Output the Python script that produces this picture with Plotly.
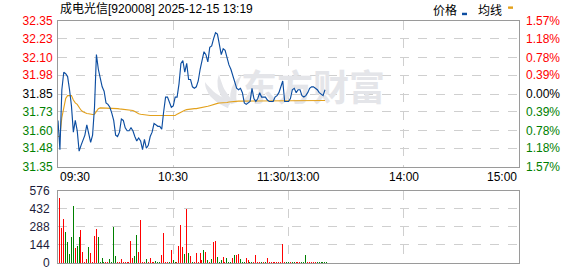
import math
import plotly.graph_objects as go

# ---------------- data ----------------
title_text = "成电光信[920008] 2025-12-15 13:19"
prev_close = 31.85

price_ticks = [31.35, 31.48, 31.60, 31.73, 31.85, 31.98, 32.10, 32.23, 32.35]
price_tick_labels = ["31.35", "31.48", "31.60", "31.73", "31.85", "31.98", "32.10", "32.23", "32.35"]
pct_tick_labels = ["1.57%", "1.18%", "0.78%", "0.39%", "0.00%", "0.39%", "0.78%", "1.18%", "1.57%"]
vol_ticks = [0, 144, 288, 432, 576]
vol_tick_labels = ["0", "144", "288", "432", "576"]
time_tick_pos = [0, 60, 120, 180, 240]
time_tick_labels = ["09:30", "10:30", "11:30/13:00", "14:00", "15:00"]
watermark_text = "东方财富"

price = [
    31.67, 31.47, 31.88, 32.00, 31.99, 31.97, 31.88, 31.77, 31.59, 31.67,
    31.60, 31.46, 31.50, 31.54, 31.57, 31.64, 31.58, 31.52, 31.57, 31.76,
    32.12, 32.02, 31.96, 31.90, 31.87, 31.79, 31.78, 31.76, 31.72, 31.67,
    31.57, 31.56, 31.59, 31.68, 31.67, 31.62, 31.60, 31.60, 31.62, 31.60,
    31.56, 31.53, 31.55, 31.53, 31.47, 31.54, 31.48, 31.50, 31.56, 31.59,
    31.65, 31.64, 31.63, 31.63, 31.61, 31.73, 31.83, 31.83, 31.80, 31.76,
    31.77, 31.83, 31.83, 31.92, 32.06, 32.08, 32.00, 32.06, 31.95, 31.95,
    31.90, 31.89, 31.90, 31.94, 32.02, 32.07, 32.14, 32.12, 32.07, 32.17,
    32.18, 32.23, 32.27, 32.26, 32.18, 32.12, 32.16, 32.15, 32.10, 32.05,
    32.02, 31.98, 31.94, 31.89, 31.88, 31.89, 31.86, 31.79, 31.78, 31.79,
    31.80, 31.89, 31.82, 31.80, 31.82, 31.86, 31.83, 31.83, 31.83, 31.81,
    31.80, 31.80, 31.80, 31.83, 31.84, 31.86, 31.90, 31.94, 31.80, 31.80,
    31.80, 31.82, 31.88, 31.89, 31.86, 31.88, 31.88, 31.84, 31.83, 31.84,
    31.86, 31.89, 31.90, 31.90, 31.89, 31.88, 31.86, 31.85, 31.84, 31.88,
]

avg_price = [
    31.56, 31.56, 31.69, 31.77, 31.82, 31.84, 31.84, 31.84, 31.81, 31.79,
    31.78, 31.76, 31.74, 31.73, 31.722, 31.718, 31.716, 31.713, 31.711, 31.713,
    31.73, 31.75, 31.756, 31.756, 31.756, 31.756, 31.756, 31.756, 31.756, 31.756,
    31.756, 31.751, 31.749, 31.747, 31.747, 31.744, 31.744, 31.742, 31.742, 31.738,
    31.731, 31.722, 31.716, 31.713, 31.711, 31.707, 31.704, 31.704, 31.704, 31.704,
    31.704, 31.704, 31.704, 31.704, 31.704, 31.704, 31.704, 31.704, 31.704, 31.704,
    31.704, 31.704, 31.713, 31.72, 31.727, 31.736, 31.74, 31.744, 31.747, 31.749,
    31.749, 31.751, 31.751, 31.753, 31.756, 31.758, 31.76, 31.764, 31.767, 31.771,
    31.776, 31.778, 31.782, 31.787, 31.789, 31.789, 31.791, 31.791, 31.793, 31.796,
    31.798, 31.80, 31.802, 31.802, 31.802, 31.802, 31.802, 31.802, 31.802, 31.802,
    31.803, 31.803, 31.803, 31.803, 31.803, 31.803, 31.803, 31.803, 31.803, 31.803,
    31.804, 31.804, 31.804, 31.804, 31.804, 31.804, 31.804, 31.805, 31.805, 31.805,
    31.805, 31.805, 31.805, 31.805, 31.805, 31.805, 31.805, 31.805, 31.805, 31.805,
    31.806, 31.806, 31.806, 31.806, 31.806, 31.806, 31.806, 31.806, 31.806, 31.806,
]

volume = [
    524, 284, 356, 248, 170, 72, 209, 455, 124, 142,
    214, 266, 93, 8, 34, 132, 85, 15, 217, 274,
    209, 8, 46, 15, 8, 8, 39, 8, 287, 62,
    15, 5, 39, 8, 8, 8, 8, 178, 46, 62,
    225, 93, 349, 8, 8, 39, 8, 46, 8, 8,
    23, 8, 8, 70, 240, 8, 8, 5, 108, 31,
    8, 8, 140, 302, 132, 78, 434, 85, 57, 15,
    8, 85, 15, 85, 31, 108, 88, 31, 15, 39,
    168, 176, 54, 8, 31, 54, 8, 46, 8, 8,
    46, 70, 67, 72, 39, 8, 8, 46, 31, 8,
    8, 8, 70, 5, 8, 8, 8, 8, 46, 15,
    5, 8, 8, 8, 5, 8, 155, 8, 8, 8,
    15, 15, 8, 8, 8, 8, 8, 5, 70, 8,
    8, 8, 8, 8, 8, 8, 8, 8, 8, 8,
]

vol_dir = list(
    "rrrggggg" "rggrrrrgrrrr" "ggggrrgggg" "rrrrrrrrrg"
    "grrrrgrrrr" "gggrrrrgrg" "grrrrgrgrg" "rrrrrgrgrg"
    "rrgggrrgggr" "grrgggrrgg" "rrrrgrgrrrr" "rrrrrrggrg"
    "grrrggg" "rrrrrggggggg"
)

# ---------------- geometry helpers ----------------
W, H = 578, 276
ML, MR, MT, MB = 58, 59, 21, 6
PW, PH = W - ML - MR, H - MT - MB
X_SPAN = 240
PX_PER_MIN = PW / X_SPAN
Y_LO, Y_HI = 31.35, 32.35
PRICE_TOP_PX, PRICE_BOT_PX = 21.5, 171.5


def px_x(px):
    return (px - ML) / PW


def px_y(py):
    return (H - MB - py) / PH


def dx(px):  # pixel -> x data (minutes)
    return (px - ML) / PX_PER_MIN


def dy(py):  # pixel -> price
    return Y_HI - (py - PRICE_TOP_PX) / (PRICE_BOT_PX - PRICE_TOP_PX) * (Y_HI - Y_LO)


RED = "#ff0000"
GREEN = "#008000"
BLUE = "#0d4ea1"
GOLD = "#e3a11c"
GRID = "#cfcfcf"
BORDER = "#9a9a9a"
WM = "#e4e5e9"
NUMFONT = "Liberation Sans, Arial, sans-serif"
CJKFONT = "Liberation Sans, Noto Sans CJK SC, sans-serif"

minutes = list(range(len(price)))
vol_colors = [RED if d == "r" else GREEN for d in vol_dir[: len(volume)]]
while len(vol_colors) < len(volume):
    vol_colors.append(GREEN)

# snap each 1px volume bar to a whole pixel column (drawn ~2px right of the minute)
bar_offsets = []
for m in minutes:
    left_px = math.floor(ML + m * PX_PER_MIN + 1.8) + 0.02
    bar_offsets.append((left_px - (ML + m * PX_PER_MIN)) / PX_PER_MIN)
bar_width = 0.96 / PX_PER_MIN


def colour_for(v):
    if v > prev_close + 1e-9:
        return RED
    if v < prev_close - 1e-9:
        return GREEN
    return "#000000"


def quad(p0, c, p1, n=10):
    pts = []
    for i in range(n + 1):
        t = i / n
        x = (1 - t) ** 2 * p0[0] + 2 * (1 - t) * t * c[0] + t * t * p1[0]
        y = (1 - t) ** 2 * p0[1] + 2 * (1 - t) * t * c[1] + t * t * p1[1]
        pts.append((x, y))
    return pts


fig = go.Figure()

# watermark emblem: three petals converging at the bottom (pixel-space outline)
petals = [
    ((228, 111), (205, 101), (205, 84), (214, 97), (230, 104)),
    ((229, 108), (213, 93), (219, 76), (223, 94), (233, 103)),
    ((231, 107), (227, 88), (242, 77), (234, 92), (237, 105)),
]
for p0, c1, p1, c2, p2 in petals:
    outline = quad(p0, c1, p1) + quad(p1, c2, p2)[1:] + [p0]
    fig.add_trace(go.Scatter(
        x=[dx(p[0]) for p in outline], y=[dy(p[1]) for p in outline],
        mode="lines", fill="toself", fillcolor=WM, line=dict(width=0, color=WM),
        hoverinfo="skip", showlegend=False, xaxis="x", yaxis="y",
    ))

# watermark text (drawn before data so lines sit above it)
fig.add_trace(go.Scatter(
    x=[dx(313)], y=[dy(94.5)], mode="text", text=[watermark_text],
    textfont=dict(family="Noto Sans CJK SC", size=36, color=WM, weight="bold"),
    hoverinfo="skip", showlegend=False, xaxis="x", yaxis="y",
))

fig.add_trace(go.Scatter(
    x=minutes, y=avg_price, mode="lines",
    line=dict(color=GOLD, width=1.1), hoverinfo="skip", showlegend=False,
    xaxis="x", yaxis="y",
))
fig.add_trace(go.Scatter(
    x=minutes, y=price, mode="lines",
    line=dict(color=BLUE, width=1.15), hoverinfo="skip", showlegend=False,
    xaxis="x", yaxis="y",
))
fig.add_trace(go.Bar(
    x=minutes, y=volume, marker=dict(color=vol_colors, line=dict(width=0)),
    width=bar_width, offset=bar_offsets, hoverinfo="skip", showlegend=False,
    xaxis="x2", yaxis="y2",
))

axis_common = dict(
    showline=True, mirror=True, linecolor=BORDER, linewidth=1,
    zeroline=False, showgrid=True, gridcolor=GRID, griddash="dash", gridwidth=1,
    fixedrange=True,
)

price_ticktext = [
    f"<span style='color:{colour_for(v)}'>{t}</span>" for v, t in zip(price_ticks, price_tick_labels)
]

fig.update_layout(
    width=W, height=H,
    margin=dict(l=ML, r=MR, t=MT, b=MB),
    paper_bgcolor="white", plot_bgcolor="white",
    bargap=0,
    xaxis=dict(domain=[0, 1], range=[0, X_SPAN], tickvals=[60, 120, 180],
               showticklabels=False, anchor="y", **axis_common),
    yaxis=dict(domain=[px_y(PRICE_BOT_PX), 1], range=[Y_LO, Y_HI], tickvals=price_ticks,
               ticktext=price_ticktext, tickfont=dict(family=NUMFONT, size=12),
               ticks="outside", ticklen=2, tickcolor="rgba(0,0,0,0)",
               anchor="x", **axis_common),
    xaxis2=dict(domain=[0, 1], range=[0, X_SPAN], tickvals=[60, 120, 180],
                showticklabels=False, anchor="y2", **axis_common),
    yaxis2=dict(domain=[0, px_y(195.5)], range=[0, 576], tickvals=vol_ticks,
                ticktext=vol_tick_labels, tickfont=dict(family=NUMFONT, size=12, color="#1c1c3a"),
                ticks="outside", ticklen=5, tickcolor="rgba(0,0,0,0)",
                anchor="x2", **axis_common),
)

annotations = []
annotations.append(dict(
    x=0, y=px_y(8.5), xref="paper", yref="paper", xanchor="left", yanchor="middle",
    text=title_text, showarrow=False, font=dict(family=CJKFONT, size=12, color="#000"),
))
annotations.append(dict(
    x=px_x(431), y=px_y(9), xref="paper", yref="paper", xanchor="left", yanchor="middle",
    text="价格", showarrow=False, font=dict(family="Noto Sans CJK SC", size=12, color="#000"),
))
annotations.append(dict(
    x=px_x(476), y=px_y(9), xref="paper", yref="paper", xanchor="left", yanchor="middle",
    text="均线", showarrow=False, font=dict(family="Noto Sans CJK SC", size=12, color="#000"),
))
for v, t in zip(price_ticks, pct_tick_labels):
    annotations.append(dict(
        x=px_x(524), y=v, xref="paper", yref="y", xanchor="left", yanchor="middle",
        text=t, showarrow=False, font=dict(family=NUMFONT, size=12, color=colour_for(v)),
    ))
for pos, t in zip(time_tick_pos, time_tick_labels):
    anchor = "left" if pos == 0 else ("right" if pos == X_SPAN else "center")
    annotations.append(dict(
        x=pos, y=px_y(181.5), xref="x", yref="paper", xanchor=anchor, yanchor="middle",
        text=t, showarrow=False, font=dict(family=NUMFONT, size=12, color="#000"),
    ))
fig.update_layout(annotations=annotations)

# legend colour swatches
fig.add_shape(type="rect", xref="paper", yref="paper",
              x0=px_x(462), x1=px_x(467), y0=px_y(15), y1=px_y(12.5),
              fillcolor=BLUE, line=dict(width=0))
fig.add_shape(type="rect", xref="paper", yref="paper",
              x0=px_x(508), x1=px_x(513), y0=px_y(8.5), y1=px_y(6),
              fillcolor=GOLD, line=dict(width=0))

fig.write_html("out.html")
